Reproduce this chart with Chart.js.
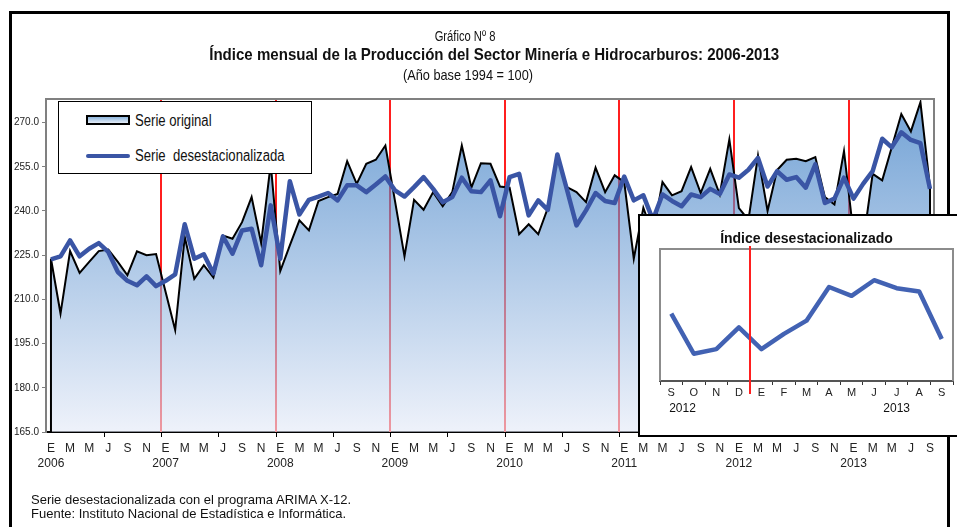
<!DOCTYPE html>
<html lang="es">
<head>
<meta charset="utf-8">
<script src="https://cdn.jsdelivr.net/npm/chart.js@4.4.0/dist/chart.umd.min.js"></script>
<style>
  html, body { margin: 0; padding: 0; background: #fff; overflow: hidden; }
  body { width: 957px; height: 527px; position: relative; font-family: "Liberation Sans", Arial, sans-serif; color: #111; }
  .narrow { font-family: "Liberation Sans Narrow", "Arial Narrow", "Liberation Sans", Arial, sans-serif; }
  #marco { position: absolute; left: 9px; top: 11px; width: 935px; height: 600px; border: 3px solid #000; }
  #principal { position: absolute; left: 0; top: 0; }
  .linea { position: absolute; width: 600px; text-align: center; white-space: nowrap; transform-origin: 50% 50%; }
  #leyenda { position: absolute; left: 58px; top: 101px; width: 252px; height: 71px; border: 1px solid #000; background: #fff; }
  #leyenda .sw1 { position: absolute; left: 27px; top: 13px; width: 40px; height: 6px; border: 2px solid #000; }
  #leyenda .sw2 { position: absolute; left: 27px; top: 52px; width: 44px; height: 4px; border-radius: 2px; }
  #leyenda .txt { position: absolute; left: 76px; font-size: 16px; line-height: 18px; white-space: nowrap; transform: scaleX(0.82); transform-origin: 0 50%; }
  #caja { position: absolute; left: 638px; top: 214px; width: 330px; height: 219px; border: 2px solid #000; background: #fff; }
  #recuadro { position: absolute; left: 0; top: 0; }
  #tituloCaja { position: absolute; left: 20px; width: 293px; top: 14px; text-align: center; font-weight: bold; font-size: 14px; line-height: 16px; white-space: nowrap; }
  .nota { position: absolute; left: 31px; font-size: 13px; line-height: 14px; white-space: nowrap; }
</style>
</head>
<body>
<div id="marco"></div>
<canvas id="principal" width="957" height="527"></canvas>

<div class="linea narrow" style="left:165px; top:28px; font-size:14px; line-height:16px; transform:scaleX(0.8);">Gráfico Nº 8</div>
<div class="linea narrow" style="left:175px; top:45px; font-size:17px; line-height:20px; font-weight:bold; transform:scaleX(0.886);">Índice mensual de la Producción del Sector Minería e Hidrocarburos: 2006-2013</div>
<div class="linea narrow" style="left:168px; top:66px; font-size:15px; line-height:18px; transform:scaleX(0.85);">(Año base 1994 = 100)</div>

<div id="leyenda" class="narrow">
  <div class="sw1"></div><div class="txt" style="top:10px;">Serie original</div>
  <div class="sw2"></div><div class="txt" style="top:45px;">Serie&nbsp; desestacionalizada</div>
</div>

<div id="caja">
  <canvas id="recuadro" width="317" height="219"></canvas>
  <div id="tituloCaja">Índice desestacionalizado</div>
</div>

<div class="nota" style="top:493px;">Serie desestacionalizada con el programa ARIMA X-12.</div>
<div class="nota" style="top:507px;">Fuente: Instituto Nacional de Estadística e Informática.</div>

<script>
// Datos: enero 2006 - setiembre 2013 (93 meses)
const anios = ['2006', '2007', '2008', '2009', '2010', '2011', '2012', '2013'];
const letrasMes = ['E', 'M', 'M', 'J', 'S', 'N'];

const serieOriginal = [
  223.8, 205.2, 226.4, 219.0, 222.7, 226.4, 226.9, 222.7, 218.2, 226.3, 225.0, 225.4,
  212.5, 199.6, 231.2, 217.0, 221.6, 217.4, 231.7, 230.6, 236.2, 244.7, 229.1, 256.0,
  219.6, 228.3, 236.8, 233.4, 243.4, 244.7, 245.8, 256.9, 249.2, 256.0, 257.4, 262.2,
  243.5, 224.6, 243.8, 240.4, 246.4, 241.6, 246.4, 262.2, 247.9, 256.2, 256.0, 248.3,
  247.9, 232.1, 235.5, 232.1, 241.0, 258.0, 248.1, 246.4, 243.0, 254.7, 246.4, 252.1,
  249.8, 223.8, 241.1, 232.0, 249.8, 245.3, 246.7, 254.9, 246.1, 254.3, 245.6, 264.3,
  241.0, 237.0, 258.8, 240.0, 253.9, 257.4, 257.7, 256.9, 258.3, 244.7, 242.2, 260.3,
  232.0, 229.0, 252.6, 250.4, 261.6, 272.9, 267.0, 276.9, 248.1
];

const serieDesest = [
  223.6, 224.6, 230.0, 224.6, 227.2, 229.1, 226.1, 219.3, 216.3, 214.8, 217.8, 214.5,
  216.3, 218.5, 235.5, 223.8, 225.3, 218.8, 231.4, 225.5, 233.4, 234.0, 221.6, 241.9,
  223.8, 250.1, 238.8, 243.8, 244.9, 246.1, 243.6, 248.7, 248.7, 246.4, 249.0, 251.7,
  247.0, 244.9, 248.1, 251.5, 247.5, 243.0, 244.7, 251.3, 246.7, 246.4, 250.4, 238.2,
  251.5, 252.6, 238.5, 243.6, 240.4, 259.2, 247.3, 235.1, 240.2, 246.1, 243.4, 242.7,
  251.7, 243.6, 245.3, 237.0, 245.6, 243.4, 241.6, 245.6, 244.7, 247.5, 245.8, 252.4,
  251.3, 254.0, 258.0, 248.3, 253.5, 250.6, 251.5, 247.9, 255.8, 242.7, 244.2, 251.3,
  244.2, 249.2, 253.5, 264.5, 261.6, 266.7, 264.1, 263.0, 247.5
];

// recuadro: setiembre 2012 - setiembre 2013
const letrasRecuadro = ['S', 'O', 'N', 'D', 'E', 'F', 'M', 'A', 'M', 'J', 'J', 'A', 'S'];
const aniosRecuadro = ['2012', '2013'];

const AZUL = '#3a55a5';
const ROJO = '#ff1f1f';
const FUENTE = '"Liberation Sans", Arial, sans-serif';

// la misma degradación para el área y para la muestra de la leyenda
document.querySelector('#leyenda .sw1').style.background = 'linear-gradient(#8fb7de, #e4ecf7)';
document.querySelector('#leyenda .sw2').style.background = AZUL;

function degradado(context) {
  const { ctx, chartArea } = context.chart;
  if (!chartArea) return 'rgba(150,190,225,0.6)';
  const g = ctx.createLinearGradient(0, chartArea.top, 0, chartArea.bottom);
  g.addColorStop(0, 'rgba(20,100,185,0.6)');
  g.addColorStop(1, 'rgba(227,233,247,0.6)');
  return g;
}

const decoracion = {
  id: 'decoracion',
  beforeDatasetsDraw(chart) {
    const { ctx, chartArea, scales } = chart;
    ctx.save();
    ctx.strokeStyle = ROJO;
    ctx.lineWidth = 2;
    for (let k = 0; k < anios.length - 1; k++) {
      const x = Math.round(scales.x.getPixelForValue(11.5 + 12 * k));
      ctx.beginPath();
      ctx.moveTo(x, chartArea.top);
      ctx.lineTo(x, chartArea.bottom);
      ctx.stroke();
    }
    ctx.restore();
  },
  afterDatasetDraw(chart, args) {
    if (args.index !== 1) return;
    // bordes verticales del área
    const { ctx, scales } = chart;
    const n = serieOriginal.length - 1;
    ctx.save();
    ctx.strokeStyle = '#000';
    ctx.lineWidth = 2;
    [[0, serieOriginal[0]], [n, serieOriginal[n]]].forEach(([i, v]) => {
      const x = scales.x.getPixelForValue(i);
      ctx.beginPath();
      ctx.moveTo(x, scales.y.getPixelForValue(v));
      ctx.lineTo(x, scales.y.getPixelForValue(scales.y.min));
      ctx.stroke();
    });
    ctx.restore();
  },
  afterDraw(chart) {
    const { ctx, chartArea, scales } = chart;
    ctx.save();
    ctx.strokeStyle = '#808080';
    ctx.lineWidth = 2;
    ctx.beginPath();
    ctx.moveTo(chartArea.left, chartArea.top);
    ctx.lineTo(chartArea.right, chartArea.top);
    ctx.lineTo(chartArea.right, chartArea.bottom);
    ctx.stroke();
    ctx.strokeStyle = '#000';
    ctx.lineWidth = 1;
    for (let v = 5.5; v < serieOriginal.length; v += 6) {
      const x = Math.round(scales.x.getPixelForValue(v)) + 0.5;
      ctx.beginPath();
      ctx.moveTo(x, chartArea.bottom);
      ctx.lineTo(x, chartArea.bottom + 5);
      ctx.stroke();
    }
    ctx.restore();
  }
};

new Chart(document.getElementById('principal'), {
  type: 'line',
  data: {
    datasets: [
      {
        label: 'Serie  desestacionalizada',
        data: serieDesest.map((v, i) => ({ x: i, y: v })),
        borderColor: AZUL,
        borderWidth: 4.5,
        borderJoinStyle: 'round',
        pointRadius: 0,
        fill: false,
        tension: 0,
        order: 0
      },
      {
        label: 'Serie original',
        data: serieOriginal.map((v, i) => ({ x: i, y: v })),
        borderColor: '#000',
        borderWidth: 2,
        pointRadius: 0,
        fill: 'start',
        backgroundColor: degradado,
        tension: 0,
        order: 1
      }
    ]
  },
  options: {
    responsive: false,
    animation: false,
    layout: { padding: { left: 0, top: 99, right: 23, bottom: 55 } },
    plugins: { legend: { display: false }, tooltip: { enabled: false } },
    scales: {
      x: {
        type: 'linear',
        min: -0.52,
        max: 92.42,
        afterFit: s => { s.height = 40; },
        grid: { display: false, drawTicks: false },
        border: { display: true, color: '#000', width: 2 },
        ticks: {
          stepSize: 1,
          autoSkip: false,
          includeBounds: false,
          maxRotation: 0,
          padding: 9,
          color: '#222',
          font: { family: FUENTE, size: 12, lineHeight: 1.25 },
          callback: value => {
            if (!Number.isInteger(value) || value % 2) return '';
            const m = value % 12;
            const letra = letrasMes[m / 2];
            return m === 0 ? [letra, anios[value / 12]] : letra;
          }
        }
      },
      y: {
        min: 165,
        max: 278,
        afterFit: s => { s.width = 46; },
        grid: { display: true, drawOnChartArea: false, tickLength: 4, color: '#808080' },
        border: { display: true, color: '#808080', width: 2 },
        ticks: {
          stepSize: 15,
          includeBounds: false,
          padding: 3,
          color: '#222',
          font: { family: FUENTE, size: 10 },
          callback: v => v.toFixed(1)
        }
      }
    }
  },
  plugins: [decoracion]
});

// recuadro con el índice desestacionalizado
const marcoRecuadro = {
  id: 'marcoRecuadro',
  afterDraw(chart) {
    const { ctx, chartArea, scales } = chart;
    ctx.save();
    ctx.strokeStyle = '#8c8c8c';
    ctx.lineWidth = 2;
    ctx.beginPath();
    ctx.moveTo(chartArea.left, chartArea.bottom);
    ctx.lineTo(chartArea.left, chartArea.top);
    ctx.lineTo(chartArea.right, chartArea.top);
    ctx.lineTo(chartArea.right, chartArea.bottom);
    ctx.stroke();
    const xr = Math.round(scales.x.getPixelForValue(3.5));
    ctx.strokeStyle = ROJO;
    ctx.beginPath();
    ctx.moveTo(xr, chartArea.top - 3);
    ctx.lineTo(xr, chartArea.bottom + 13);
    ctx.stroke();
    ctx.fillStyle = '#111';
    ctx.font = '12px ' + FUENTE;
    ctx.textAlign = 'center';
    ctx.textBaseline = 'middle';
    ctx.fillText(aniosRecuadro[0], scales.x.getPixelForValue(0.5), chartArea.bottom + 28);
    ctx.fillText(aniosRecuadro[1], scales.x.getPixelForValue(10), chartArea.bottom + 28);
    ctx.restore();
  }
};

new Chart(document.getElementById('recuadro'), {
  type: 'line',
  data: {
    labels: letrasRecuadro,
    datasets: [{
      label: 'Índice desestacionalizado',
      data: serieDesest.slice(-letrasRecuadro.length),
      borderColor: '#4262b3',
      borderWidth: 4.5,
      borderJoinStyle: 'round',
      pointRadius: 0,
      tension: 0,
      fill: false
    }]
  },
  options: {
    responsive: false,
    animation: false,
    layout: { padding: { left: 20, right: 4, top: 33, bottom: 24 } },
    plugins: { legend: { display: false }, tooltip: { enabled: false } },
    scales: {
      x: {
        offset: true,
        afterFit: s => { s.height = 30; },
        grid: { offset: true, display: true, drawOnChartArea: false, drawTicks: true, tickLength: 4, color: '#333' },
        border: { display: true, color: '#555', width: 2 },
        ticks: { autoSkip: false, maxRotation: 0, padding: 1, color: '#222', font: { family: FUENTE, size: 11 } }
      },
      y: { display: false, min: 233.8, max: 276.9 }
    }
  },
  plugins: [marcoRecuadro]
});
</script>
</body>
</html>
